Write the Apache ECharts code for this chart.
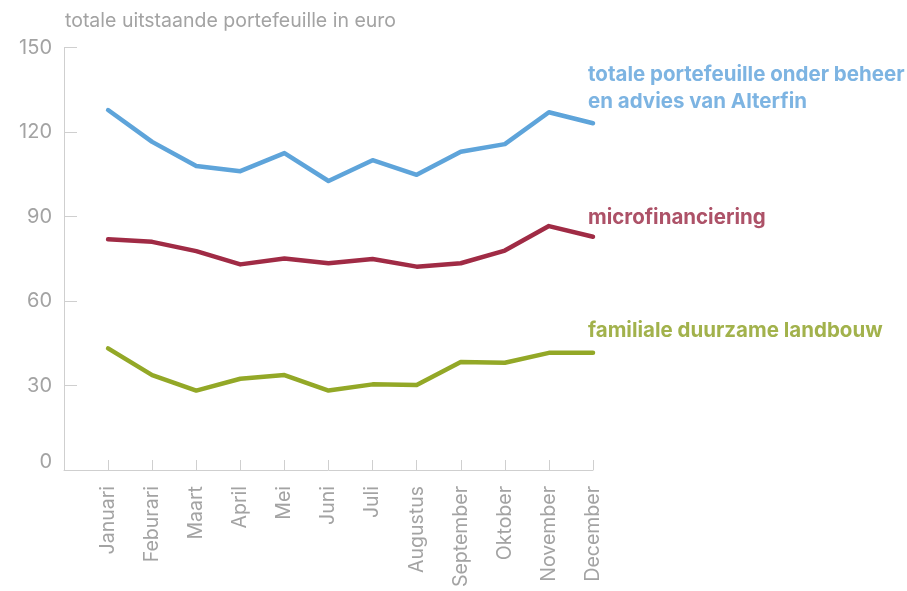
<!DOCTYPE html>
<html><head><meta charset="utf-8">
<script src="https://cdn.jsdelivr.net/npm/echarts@6/dist/echarts.min.js"></script>
<style>html,body{margin:0;padding:0;background:#fff}#c{width:907px;height:591px}</style>
</head><body><div id="c"></div>
<script>
const months = ['Januari','Feburari','Maart','April','Mei','Juni','Juli','Augustus','September','Oktober','November','December'];
const yTicks = [0, 30, 60, 90, 120, 150];
const totaal = [127.8, 116.5, 107.9, 106.1, 112.5, 102.6, 110.0, 104.8, 113.0, 115.7, 127.0, 123.1];
const micro = [81.9, 81.0, 77.7, 73.0, 75.1, 73.4, 74.9, 72.2, 73.4, 77.9, 86.6, 82.8];
const landbouw = [43.2, 33.7, 28.2, 32.4, 33.7, 28.2, 30.4, 30.2, 38.3, 38.1, 41.6, 41.6];
const seriesNames = ['totale portefeuille onder beheer\nen advies van Alterfin', 'microfinanciering', 'familiale duurzame landbouw'];

const FONT = 'Inter';
const gray = '#a3a3a3';
const axisGray = '#cfcfcf';
const lineColors = ['#5ea4da', '#a02b45', '#93a827'];
const textColors = ['#7db4e2', '#ad5268', '#a2b24c'];

function toPts(arr){ return arr.map((v,i)=>[i+1, v]); }

const chart = echarts.init(document.getElementById('c'), null, {renderer:'canvas'});
chart.setOption({
  animation: false,
  backgroundColor: '#fff',
  grid: {left: 64, right: 314, top: 47.5, bottom: 121},
  xAxis: {
    type: 'value', min: 0, max: 12, interval: 1,
    axisLine: {lineStyle: {color: axisGray, width: 1}},
    axisTick: {inside: true, length: 10, lineStyle: {color: axisGray}},
    splitLine: {show: false},
    axisLabel: {
      rotate: 90, margin: 16, fontFamily: FONT, fontSize: 19.5, color: gray,
      formatter: v => (v >= 1 && v <= 12) ? months[v-1] : ''
    }
  },
  yAxis: {
    type: 'value', min: yTicks[0], max: yTicks[yTicks.length-1], interval: 30,
    axisLine: {show: true, lineStyle: {color: axisGray, width: 1}},
    axisTick: {show: true, inside: true, length: 13, lineStyle: {color: axisGray}},
    splitLine: {show: false},
    axisLabel: {
      margin: 12, fontFamily: FONT, fontSize: 20, color: gray,
      formatter: v => v === 0 ? '{z|0}' : String(v),
      rich: {z: {fontFamily: FONT, fontSize: 20, color: gray, padding: [0,0,17,0]}}
    }
  },
  graphic: [
    {type: 'text', left: 65, top: 11, style: {text: 'totale uitstaande portefeuille in euro', fontFamily: FONT, fontSize: 19.5, fill: gray}},
    {type: 'text', left: 588, top: 61, style: {text: seriesNames[0], fontFamily: FONT, fontSize: 20.5, fontWeight: 'bold', fill: textColors[0], lineHeight: 27}},
    {type: 'text', left: 588, top: 207, style: {text: seriesNames[1], fontFamily: FONT, fontSize: 20.5, fontWeight: 'bold', fill: textColors[1]}},
    {type: 'text', left: 588, top: 320, style: {text: seriesNames[2], fontFamily: FONT, fontSize: 20.5, fontWeight: 'bold', fill: textColors[2]}}
  ],
  series: [totaal, micro, landbouw].map((d, i) => ({
    type: 'line', data: toPts(d), name: seriesNames[i],
    showSymbol: false, symbol: 'none',
    lineStyle: {color: lineColors[i], width: 4.5, cap: 'round', join: 'round'}
  }))
});
</script></body></html>
